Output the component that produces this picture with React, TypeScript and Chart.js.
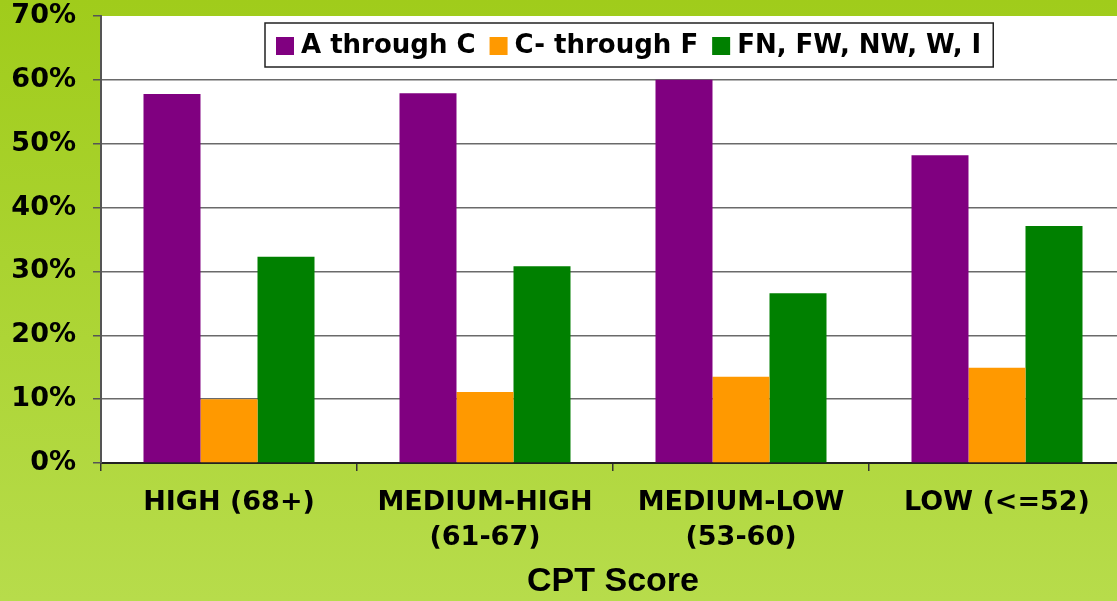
import React, { useEffect, useRef } from "react";
import { Chart, registerables } from "chart.js";

Chart.register(...registerables);

const categories: string[][] = [
  ["HIGH (68+)"],
  ["MEDIUM-HIGH", "(61-67)"],
  ["MEDIUM-LOW", "(53-60)"],
  ["LOW (<=52)"],
];
const seriesNames = ["A through C", "C- through F", "FN, FW, NW, W, I"];
const aThroughC = [57.8, 57.9, 60.0, 48.2];
const cMinusThroughF = [10.0, 11.1, 13.5, 14.9];
const fnFwNwWI = [32.3, 30.8, 26.6, 37.1];
const yTicks = [0, 10, 20, 30, 40, 50, 60, 70];
const xTitle = "CPT Score";

const COLORS = ["#800080", "#FF9900", "#008000"];
const FONT = "'DejaVu Sans', Verdana, sans-serif";

const bgPlugin = {
  id: "bgPlugin",
  beforeDraw(chart: any) {
    const { ctx, width, height, chartArea } = chart;
    ctx.save();
    const g = ctx.createLinearGradient(0, 0, 0, height);
    g.addColorStop(0, "#a0cc1b");
    g.addColorStop(1, "#b7dc4b");
    ctx.fillStyle = g;
    ctx.fillRect(0, 0, width, height);
    ctx.fillStyle = "#ffffff";
    ctx.fillRect(chartArea.left, chartArea.top, chartArea.right - chartArea.left, chartArea.bottom - chartArea.top);
    ctx.restore();
  },
};

const legendPlugin = {
  id: "boxLegend",
  afterDraw(chart: any) {
    const { ctx, chartArea } = chart;
    const ds = chart.data.datasets;
    ctx.save();
    ctx.font = `bold 26px ${FONT}`;
    const sq = 18, gapText = 7, gapItem = 14, padL = 11, padR = 12;
    const widths = ds.map((d: any) => ctx.measureText(d.label).width);
    let total = padL + padR;
    widths.forEach((w: number, i: number) => {
      total += sq + gapText + w + (i < widths.length - 1 ? gapItem : 0);
    });
    const left = chartArea.left + 164;
    const top = 23, h = 44;
    ctx.fillStyle = "#ffffff";
    ctx.fillRect(left, top, total, h);
    ctx.strokeStyle = "#222";
    ctx.lineWidth = 1.5;
    ctx.strokeRect(left, top, total, h);
    let x = left + padL;
    const cy = top + h / 2;
    ds.forEach((d: any, i: number) => {
      ctx.fillStyle = d.backgroundColor;
      ctx.fillRect(x, cy - sq / 2 + 1, sq, sq);
      x += sq + gapText;
      ctx.fillStyle = "#000";
      ctx.textBaseline = "middle";
      ctx.textAlign = "left";
      ctx.fillText(d.label, x, cy + 1);
      x += widths[i] + gapItem;
    });
    ctx.restore();
  },
};

export default function App() {
  const ref = useRef<HTMLCanvasElement | null>(null);
  useEffect(() => {
    if (!ref.current) return;
    const chart = new Chart(ref.current, {
      type: "bar",
      data: {
        labels: categories,
        datasets: [
          { label: seriesNames[0], data: aThroughC, backgroundColor: COLORS[0] },
          { label: seriesNames[1], data: cMinusThroughF, backgroundColor: COLORS[1] },
          { label: seriesNames[2], data: fnFwNwWI, backgroundColor: COLORS[2] },
        ],
      },
      options: {
        responsive: false,
        animation: false,
        devicePixelRatio: 1,
        layout: { padding: { top: 16, left: 0, right: 0, bottom: 0 } },
        datasets: { bar: { categoryPercentage: 0.668, barPercentage: 1.0, borderWidth: 0 } },
        plugins: {
          legend: { display: false },
          tooltip: { enabled: false },
          title: { display: false },
        },
        scales: {
          x: {
            grid: {
              offset: true,
              drawOnChartArea: false,
              drawTicks: true,
              tickLength: 8,
              color: "#333",
              lineWidth: 1.5,
            },
            border: { display: true, color: "#222", width: 2 },
            ticks: {
              color: "#000",
              padding: 15,
              maxRotation: 0,
              autoSkip: false,
              font: { family: FONT, size: 27, weight: "bold", lineHeight: 1.28 },
            },
            title: {
              display: true,
              text: xTitle,
              color: "#000",
              font: { family: "'Liberation Sans', Arial, sans-serif", size: 34, weight: "bold", lineHeight: 1 },
              padding: { top: 0, bottom: 2 },
            },
            afterFit(scale: any) {
              scale.height = 138;
              scale.paddingLeft = 0;
              scale.paddingRight = 0;
            },
          },
          y: {
            min: 0,
            max: 70,
            afterBuildTicks(scale: any) {
              scale.ticks = yTicks.map((v) => ({ value: v }));
            },
            grid: {
              drawTicks: true,
              tickLength: 8,
              color: (c: any) => (c.tick && c.tick.value === 70 ? "rgba(0,0,0,0)" : "#6a6a6a"),
              tickColor: "#555",
              lineWidth: 1.5,
            },
            border: { display: true, color: "#555", width: 2 },
            ticks: {
              color: "#000",
              padding: 17,
              callback: (v: any) => `${v}%`,
              font: { family: FONT, size: 27, weight: "bold" },
            },
            afterFit(scale: any) {
              scale.width = 101;
              scale.paddingTop = 0;
              scale.paddingBottom = 0;
            },
          },
        },
      },
      plugins: [bgPlugin, legendPlugin],
    } as any);
    return () => chart.destroy();
  }, []);

  return (
    <div style={{ position: "absolute", left: 0, top: 0, width: 1117, height: 601, overflow: "hidden" }}>
      <canvas ref={ref} width={1125} height={601} style={{ display: "block", width: 1125, height: 601 }} />
    </div>
  );
}
